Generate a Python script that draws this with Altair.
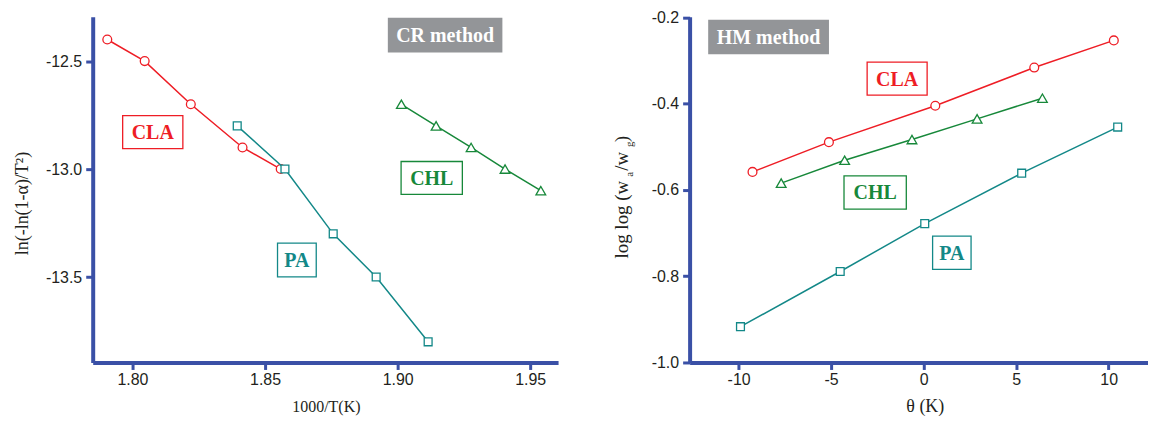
import altair as alt
import pandas as pd

# ---------------- data ----------------
SERIES = ["CLA", "PA", "CHL"]
COLORS = {"CLA": "#EE1D25", "PA": "#138888", "CHL": "#17883A"}
SHAPES = {"CLA": "circle", "PA": "square", "CHL": "triangle-up"}
SIZES = {"CLA": 78, "PA": 62, "CHL": 95}

# CR method panel
cr_cla_x = [1.7905, 1.8046, 1.8220, 1.8415, 1.8559]
cr_cla_y = [-12.40, -12.50, -12.70, -12.90, -13.00]
cr_pa_x = [1.8395, 1.8575, 1.8757, 1.8919, 1.9115]
cr_pa_y = [-12.80, -13.00, -13.30, -13.50, -13.80]
cr_chl_x = [1.9014, 1.9145, 1.9277, 1.9405, 1.9540]
cr_chl_y = [-12.70, -12.80, -12.90, -13.00, -13.10]

# HM method panel
hm_cla_x = [-9.25, -5.12, 0.63, 5.98, 10.28]
hm_cla_y = [-0.558, -0.489, -0.4045, -0.316, -0.253]
hm_chl_x = [-7.70, -4.27, -0.63, 2.89, 6.42]
hm_chl_y = [-0.584, -0.531, -0.483, -0.435, -0.387]
hm_pa_x = [-9.90, -4.51, 0.06, 5.30, 10.49]
hm_pa_y = [-0.917, -0.789, -0.678, -0.561, -0.454]

# tick values
cr_xticks = [1.80, 1.85, 1.90, 1.95]
cr_yticks = [-12.5, -13.0, -13.5]
hm_xticks = [-10, -5, 0, 5, 10]
hm_yticks = [-1.0, -0.8, -0.6, -0.4, -0.2]

# label boxes (data units): name, x0, x1, y0, y1
cr_box_names = ["CLA", "CHL", "PA"]
cr_box_x0 = [1.7963, 1.9013, 1.8547]
cr_box_x1 = [1.8190, 1.9244, 1.8693]
cr_box_y0 = [-12.753, -12.965, -13.343]
cr_box_y1 = [-12.905, -13.117, -13.499]
cr_method = ("CR method", 1.8963, 1.9395, -12.299, -12.4605)

hm_box_names = ["CLA", "CHL", "PA"]
hm_box_x0 = [-3.054, -4.304, 0.485]
hm_box_x1 = [0.189, -0.937, 2.564]
hm_box_y0 = [-0.3035, -0.5673, -0.7068]
hm_box_y1 = [-0.3798, -0.6443, -0.7839]
hm_method = ("HM method", -11.646, -5.117, -0.2053, -0.2849)

AXIS_BLUE = "#3A50A6"
INK = "#231F20"
SERIF = "Liberation Serif"
SANS = "Liberation Sans"
MINUS_FIX = "replace(datum.label, '\u2212', '-')"


def panel(series, xscale, yscale, xaxis, yaxis, w, h, box_names, bx0, bx1, by0, by1, method, extra=None):
    layers = []
    for name, xs, ys in series:
        df = pd.DataFrame({"x": xs, "y": ys})
        enc = dict(x=alt.X("x:Q", scale=xscale, axis=xaxis), y=alt.Y("y:Q", scale=yscale, axis=yaxis))
        layers.append(alt.Chart(df).mark_line(color=COLORS[name], strokeWidth=1.5).encode(**enc))
        layers.append(
            alt.Chart(df).mark_point(shape=SHAPES[name], size=SIZES[name], filled=True, fill="white",
                                     stroke=COLORS[name], strokeWidth=1.3, opacity=1).encode(**enc)
        )
    bdf = pd.DataFrame({"name": box_names, "x0": bx0, "x1": bx1, "y0": by0, "y1": by1})
    bdf["xc"] = (bdf["x0"] + bdf["x1"]) / 2
    bdf["yc"] = (bdf["y0"] + bdf["y1"]) / 2
    cscale = alt.Scale(domain=SERIES, range=[COLORS[s] for s in SERIES])
    layers.append(
        alt.Chart(bdf).mark_rect(fill="white", strokeWidth=1.3).encode(
            x=alt.X("x0:Q", scale=xscale, axis=xaxis), x2="x1:Q",
            y=alt.Y("y0:Q", scale=yscale, axis=yaxis), y2="y1:Q",
            stroke=alt.Stroke("name:N", scale=cscale, legend=None),
        )
    )
    layers.append(
        alt.Chart(bdf).mark_text(font=SERIF, fontWeight="bold", fontSize=20, baseline="middle", dy=1).encode(
            x=alt.X("xc:Q", scale=xscale, axis=xaxis),
            y=alt.Y("yc:Q", scale=yscale, axis=yaxis),
            text="name:N",
            color=alt.Color("name:N", scale=cscale, legend=None),
        )
    )
    mdf = pd.DataFrame({"t": [method[0]], "x0": [method[1]], "x1": [method[2]], "y0": [method[3]], "y1": [method[4]]})
    mdf["xc"] = (mdf["x0"] + mdf["x1"]) / 2
    mdf["yc"] = (mdf["y0"] + mdf["y1"]) / 2
    layers.append(
        alt.Chart(mdf).mark_rect(fill="#939598").encode(
            x=alt.X("x0:Q", scale=xscale, axis=xaxis), x2="x1:Q",
            y=alt.Y("y0:Q", scale=yscale, axis=yaxis), y2="y1:Q",
        )
    )
    layers.append(
        alt.Chart(mdf).mark_text(font=SERIF, fontWeight="bold", fontSize=20, color="white", baseline="middle", dy=1).encode(
            x=alt.X("xc:Q", scale=xscale, axis=xaxis),
            y=alt.Y("yc:Q", scale=yscale, axis=yaxis),
            text="t:N",
        )
    )
    if extra:
        layers.extend(extra)
    return alt.layer(*layers).properties(width=w, height=h)


# ---------------- left panel ----------------
cr_xscale = alt.Scale(domain=[1.785, 1.9605], nice=False, zero=False)
cr_yscale = alt.Scale(domain=[-13.8957, -12.2944], nice=False, zero=False)
cr_xaxis = alt.Axis(values=cr_xticks, format=".2f", title="1000/T(K)", titleFontSize=16,
                    titleX=234, titleY=44, titleAlign="center", titleBaseline="middle")
cr_yaxis = alt.Axis(values=cr_yticks, format=".1f", labelExpr=MINUS_FIX, title="ln(-ln(1-\u03b1)/T\u00b2)",
                    titleFontSize=18, titleX=-70, titleY=187, titleAngle=270,
                    titleAlign="center", titleBaseline="middle")

left = panel(
    [("CLA", cr_cla_x, cr_cla_y), ("PA", cr_pa_x, cr_pa_y), ("CHL", cr_chl_x, cr_chl_y)],
    cr_xscale, cr_yscale, cr_xaxis, cr_yaxis, 467, 347,
    cr_box_names, cr_box_x0, cr_box_x1, cr_box_y0, cr_box_y1, cr_method,
)

# ---------------- right panel ----------------
hm_xscale = alt.Scale(domain=[-12.65, 12.128], nice=False, zero=False)
hm_yscale = alt.Scale(domain=[-1.0, -0.198], nice=False, zero=False)
hm_xaxis = alt.Axis(values=hm_xticks, format="d", labelExpr=MINUS_FIX, title="\u03b8 (K)", titleFontSize=18,
                    titleX=236, titleY=44, titleAlign="center", titleBaseline="middle")
hm_yaxis = alt.Axis(values=hm_yticks, format=".1f", labelExpr=MINUS_FIX, title="")

one = pd.DataFrame({"a": [0]})
title_parts = [
    ("log log (w", 19, -61.5, 242.7),
    ("a", 11, -57.0, 160.7),
    ("/w", 19, -61.5, 154.7),
    ("g", 11, -57.0, 130.7),
    (")", 18, -61.5, 125.7),
]
title_layers = [
    alt.Chart(one).mark_text(text=t, font=SERIF, fontSize=fs, angle=270, align="left",
                             baseline="alphabetic", color=INK).encode(x=alt.value(px), y=alt.value(py))
    for t, fs, px, py in title_parts
]

right = panel(
    [("CLA", hm_cla_x, hm_cla_y), ("CHL", hm_chl_x, hm_chl_y), ("PA", hm_pa_x, hm_pa_y)],
    hm_xscale, hm_yscale, hm_xaxis, hm_yaxis, 460, 347,
    hm_box_names, hm_box_x0, hm_box_x1, hm_box_y0, hm_box_y1, hm_method,
    extra=title_layers,
)

chart = (
    alt.hconcat(left, right, spacing=132, bounds="flush")
    .properties(padding={"left": 6, "top": 0, "right": 0, "bottom": 0})
    .configure_view(stroke=None)
    .configure_axis(
        grid=False,
        domainColor=AXIS_BLUE, domainWidth=4,
        tickColor=AXIS_BLUE, tickWidth=3, tickSize=7,
        labelFont=SANS, labelFontSize=16, labelColor=INK, labelPadding=4,
        titleFont=SERIF, titleFontWeight="normal", titleColor=INK,
    )
    .configure_axisX(labelPadding=2)
)

chart.save("out.html", embed_options={"renderer": "svg", "actions": False})
